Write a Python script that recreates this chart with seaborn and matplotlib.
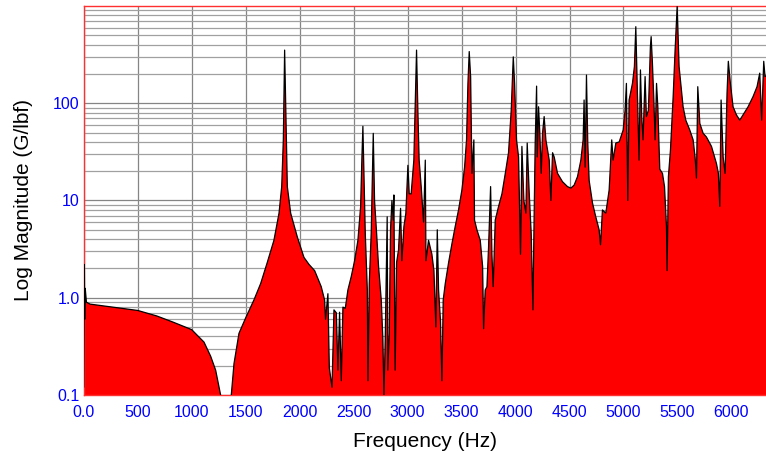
import numpy as np
import pandas as pd
import seaborn as sns
import matplotlib.pyplot as plt
from matplotlib.ticker import LogLocator, NullFormatter

# frequency response (Hz, G/lbf)
freq_hz = [0, 6, 9, 14, 25, 58, 274, 500, 676, 830, 1000, 1114, 1176, 1222, 1268, 1300, 1340, 1367,
           1392, 1438, 1500, 1577, 1639, 1700, 1762, 1809, 1834, 1849, 1861, 1874, 1886, 1917, 1979,
           2040, 2087, 2139, 2200, 2231, 2240, 2262, 2275, 2300, 2318, 2340, 2355, 2370, 2386, 2401,
           2423, 2447, 2478, 2509, 2540, 2565, 2577, 2586, 2596, 2608, 2627, 2633, 2645, 2663, 2676,
           2682, 2694, 2713, 2731, 2756, 2771, 2781, 2793, 2811, 2817, 2830, 2842, 2855, 2867, 2873,
           2885, 2898, 2916, 2935, 2947, 2966, 2984, 3003, 3015, 3033, 3058, 3070, 3083, 3095, 3107,
           3126, 3148, 3164, 3170, 3194, 3225, 3244, 3262, 3275, 3287, 3305, 3318, 3330, 3349, 3380,
           3411, 3441, 3472, 3503, 3528, 3546, 3559, 3571, 3584, 3596, 3614, 3620, 3642, 3673, 3695,
           3704, 3719, 3735, 3750, 3769, 3781, 3793, 3812, 3843, 3874, 3905, 3935, 3960, 3979, 3991,
           4009, 4028, 4046, 4059, 4077, 4096, 4108, 4127, 4145, 4161, 4170, 4182, 4195, 4201, 4213,
           4225, 4238, 4250, 4265, 4281, 4312, 4327, 4343, 4358, 4389, 4435, 4481, 4512, 4543, 4574,
           4605, 4626, 4635, 4645, 4657, 4669, 4682, 4713, 4743, 4774, 4787, 4805, 4836, 4867, 4891,
           4904, 4929, 4960, 4997, 5015, 5027, 5040, 5052, 5083, 5101, 5114, 5129, 5144, 5157, 5169,
           5181, 5200, 5212, 5231, 5249, 5256, 5268, 5281, 5293, 5306, 5318, 5336, 5361, 5380, 5398,
           5404, 5416, 5435, 5460, 5478, 5497, 5515, 5534, 5552, 5577, 5614, 5645, 5663, 5676, 5688,
           5707, 5738, 5768, 5815, 5861, 5879, 5892, 5904, 5923, 5941, 5959, 5971, 5990, 6015, 6046,
           6077, 6108, 6154, 6200, 6237, 6262, 6280, 6299, 6311, 6320]
mag = [0.12, 2.2, 0.6, 1.25, 0.9, 0.86, 0.80, 0.74, 0.65, 0.56, 0.47, 0.35, 0.25, 0.18, 0.1, 0.08, 0.08, 0.1,
       0.21, 0.43, 0.62, 0.95, 1.4, 2.3, 3.9, 7.4, 13.9, 42, 352, 62, 13.9, 7.4, 4.2,
       2.6, 2.2, 1.9, 1.3, 0.95, 0.6, 1.1, 0.19, 0.12, 0.75, 0.7, 0.18, 0.71, 0.14, 0.80,
       0.78, 1.2, 1.65, 2.4, 3.9, 8.7, 28, 58, 19, 4.6, 1.2, 0.14, 1.4, 4.6, 22,
       49, 10, 4.6, 2.1, 0.95, 0.38, 0.1, 0.38, 6.8, 0.18, 0.43, 5.0, 10, 6.3, 11.4,
       0.18, 2.3, 3.1, 8.3, 2.4, 5.4, 7.4, 23, 11.7, 11.7, 26, 92, 352, 85, 26,
       13.9, 6.0, 26, 2.4, 3.9, 2.8, 1.9, 0.5, 5.0, 1.2, 0.57, 0.14, 0.95, 1.4, 2.3,
       3.6, 5.4, 8.0, 12.8, 22, 42, 160, 340, 187, 19, 42, 6.3, 5.0, 3.9, 2.1,
       0.48, 1.2, 1.3, 3.3, 13.9, 2.8, 1.3, 6.3, 8.7, 11.7, 19, 31, 85, 300, 160,
       42, 28, 2.8, 36, 10, 7.4, 39, 11.7, 4.6, 0.75, 4.6, 39, 150, 28, 92,
       49, 19, 49, 73, 42, 26, 10, 31, 28, 19, 15.6, 13.9, 13.4, 14.4, 17.6,
       26, 42, 108, 22, 195, 39, 16, 9.4, 6.8, 5.0, 3.5, 8.0, 7.4, 12.8, 42,
       26, 39, 40, 53, 85, 160, 10, 108, 160, 238, 613, 126, 26, 220, 73,
       42, 188, 73, 85, 380, 484, 258, 108, 42, 160, 92, 21, 19, 13.9, 5.4,
       1.9, 17.6, 33, 117, 352, 985, 238, 148, 92, 67, 53, 42, 28, 17, 148,
       62, 49, 45, 36, 24, 19, 8.7, 108, 28, 19, 126, 270, 160, 92, 76,
       67, 76, 92, 117, 148, 204, 67, 270, 188, 190]

x_ticks = [0, 500, 1000, 1500, 2000, 2500, 3000, 3500, 4000, 4500, 5000, 5500, 6000]
x_labels = ['0.0', '500', '1000', '1500', '2000', '2500', '3000', '3500', '4000', '4500', '5000', '5500', '6000']
y_ticks = [0.1, 1, 10, 100]
y_labels = ['0.1', '1.0', '10', '100']

df = pd.DataFrame({'freq': freq_hz, 'mag': mag})

sns.set_theme(style="white")
plt.rcParams['font.family'] = ['Liberation Sans', 'DejaVu Sans']

fig = plt.figure(figsize=(7.66, 4.51), dpi=100)
ax = fig.add_axes([0.1093, 0.1242, 0.8907, 0.8625])
ax.set_yscale('log')
ax.set_axisbelow(True)

ax.fill_between(df['freq'], df['mag'], 0.01, color='#ff0000', linewidth=0, zorder=2)
sns.lineplot(data=df, x='freq', y='mag', ax=ax, color='black', linewidth=0.9,
             estimator=None, sort=False, zorder=3)

ax.set_xlim(0, 6320)
ax.set_ylim(0.1, 1000)

ax.set_xticks(x_ticks)
ax.set_xticklabels(x_labels)
ax.set_yticks(y_ticks)
ax.set_yticklabels(y_labels)
ax.yaxis.set_minor_locator(LogLocator(base=10, subs=np.arange(2, 10)))
ax.yaxis.set_minor_formatter(NullFormatter())
ax.tick_params(axis='both', which='both', length=0, colors='#0000ff', labelsize=11.5)
ax.tick_params(axis='x', pad=7)
ax.tick_params(axis='y', pad=3)

ax.grid(True, which='major', axis='both', color='#858585', linewidth=0.9)
ax.grid(True, which='minor', axis='y', color='#a0a0a0', linewidth=0.9)

for side in ['top', 'left', 'bottom']:
    ax.spines[side].set_color('#ff3030')
    ax.spines[side].set_linewidth(1.0)
ax.spines['right'].set_visible(False)

ax.set_xlabel('Frequency (Hz)', fontsize=15, color='black', labelpad=9)
ax.set_ylabel('Log Magnitude (G/lbf)', fontsize=15, color='black', labelpad=14)

plt.savefig('out.png', dpi=100)
plt.close()
